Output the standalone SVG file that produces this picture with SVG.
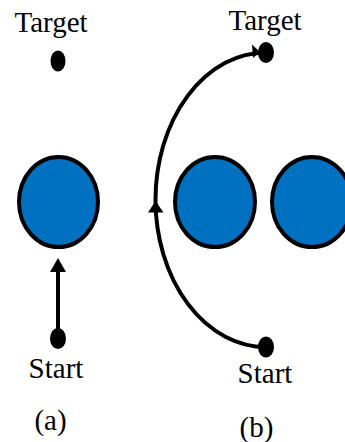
<svg xmlns="http://www.w3.org/2000/svg" width="345" height="442" viewBox="0 0 345 442">
  <style>
    .lbl { font-family: "Liberation Serif", "Times New Roman", serif; font-size: 29px; fill: #000; text-anchor: middle; }
    .obs { fill: #0070C0; stroke: #000; stroke-width: 4; }
    .dot { fill: #000; }
    .path { fill: none; stroke: #000; stroke-width: 4; }
    .head { fill: #000; }
  </style>
  <rect width="345" height="442" fill="#fff"/>

  <!-- panel (a) -->
  <g id="a-target">
    <text class="lbl" x="51" y="32">Target</text>
    <ellipse class="dot" cx="58" cy="61" rx="7.5" ry="10.5"/>
  </g>
  <g id="a-obstacle">
    <ellipse class="obs" cx="58.5" cy="202" rx="39.5" ry="45"/>
  </g>
  <g id="a-start">
    <ellipse class="dot" cx="58" cy="338.5" rx="8" ry="10.5"/>
    <text class="lbl" x="56" y="378">Start</text>
  </g>
  <g id="a-caption">
    <text class="lbl" x="50.5" y="430">(a)</text>
  </g>

  <!-- panel (b) -->
  <g id="b-obstacle-1">
    <ellipse class="obs" cx="215" cy="202" rx="40" ry="45"/>
  </g>
  <g id="b-obstacle-2">
    <ellipse class="obs" cx="312" cy="202" rx="40" ry="45"/>
  </g>
  <g id="b-caption">
    <text class="lbl" x="256.5" y="437">(b)</text>
  </g>

  <!-- connectors -->
  <g id="connectors">
    <!-- straight path in (a) -->
    <line class="path" x1="58" y1="338" x2="58" y2="270"/>
    <polygon class="head" points="58,258 50,272 66,272"/>
    <!-- curved detour in (b): left half of an ellipse centred at (266, 199.75) -->
    <path class="path" d="M266 347 A110.5 147.25 0 0 1 266 52.5"/>
    <polygon class="head" points="155.5,201 148,212.5 163.5,212.5"/>
    <polygon class="head" points="260,52 252,44.5 253,58"/>
  </g>

  <g id="b-target">
    <text class="lbl" x="265" y="30">Target</text>
    <ellipse class="dot" cx="266" cy="52.5" rx="8" ry="10.5"/>
  </g>
  <g id="b-start">
    <ellipse class="dot" cx="266" cy="347" rx="8" ry="10.5"/>
    <text class="lbl" x="265" y="383">Start</text>
  </g>
</svg>
